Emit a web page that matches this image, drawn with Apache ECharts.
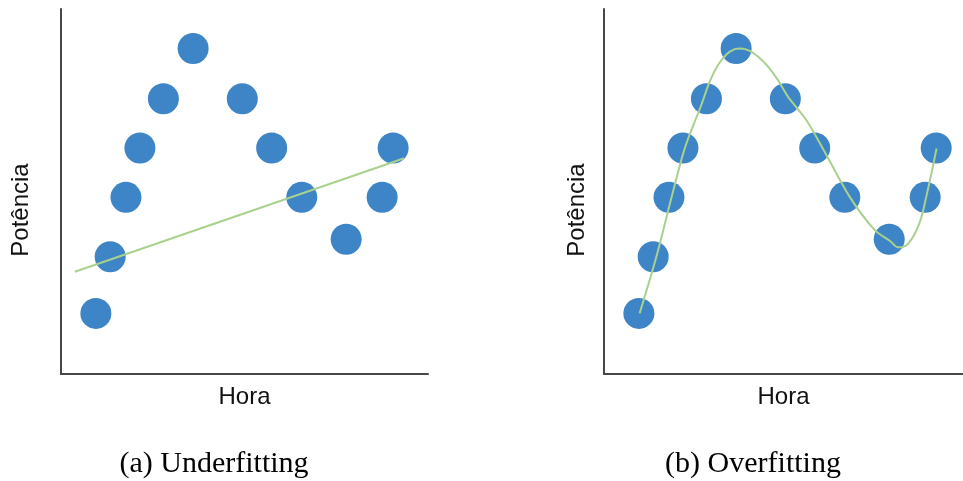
<!DOCTYPE html>
<html>
<head>
<meta charset="utf-8">
<script src="https://cdn.jsdelivr.net/npm/echarts@6/dist/echarts.min.js"></script>
<style>
  html, body { margin: 0; padding: 0; background: #fff; }
  #chart { width: 963px; height: 481px; }
</style>
</head>
<body>
<div id="chart"></div>
<script>
// Hourly power samples (same measurements in both panels)
const hours = [9.5, 13.4, 17.7, 21.5, 27.9, 36.0, 49.4, 57.4, 65.6, 77.7, 87.5, 90.5];
const power = [16.6, 32.1, 48.4, 61.9, 75.4, 89.2, 75.4, 61.9, 48.4, 36.9, 48.4, 61.9];

// (a) straight-line model
const linearX = [3.8, 93.5];
const linearY = [28.0, 59.1];

// (b) high-order model that follows every sample
const curveX = [9.7, 14.4, 18.4, 22.0, 26.5, 28.8, 31.1, 33.4, 35.6, 37.4, 39.7, 42.0, 44.7, 47.4, 50.1,
                55.1, 59.6, 66.9, 73.7, 78.1, 80.1, 82.4, 84.7, 86.5, 87.8, 89.2, 90.6];
const curveY = [16.6, 32.6, 48.4, 61.8, 73.7, 80.1, 84.7, 87.6, 89.0, 89.2, 88.5, 86.9, 84.2, 80.5, 76.0,
                69.6, 61.8, 48.6, 39.5, 36.3, 34.7, 35.3, 38.5, 43.1, 48.6, 55.0, 61.8];

const axisTitleX = 'Hora';
const axisTitleY = 'Potência';
const captions = ['(a) Underfitting', '(b) Overfitting'];

const pts = hours.map((h, i) => [h, power[i]]);
const zip = (xs, ys) => xs.map((x, i) => [x, ys[i]]);

const axisLine = { show: true, lineStyle: { color: '#474747', width: 2 } };
const sansFont = '"Liberation Sans", Arial, sans-serif';
const serifFont = '"Liberation Serif", "Times New Roman", serif';

function xAxisFor(idx, max) {
  return {
    type: 'value', gridIndex: idx, min: 0, max: max,
    axisLine: axisLine, axisTick: { show: false }, axisLabel: { show: false },
    splitLine: { show: false },
    name: axisTitleX, nameLocation: 'middle', nameGap: 11,
    nameTextStyle: { fontFamily: sansFont, fontSize: 24, color: '#111', verticalAlign: 'top' }
  };
}
function yAxisFor(idx) {
  return {
    type: 'value', gridIndex: idx, min: 0, max: 100,
    axisLine: axisLine, axisTick: { show: false }, axisLabel: { show: false },
    splitLine: { show: false }
  };
}

const pointSeries = (idx) => ({
  type: 'scatter', xAxisIndex: idx, yAxisIndex: idx, data: pts,
  symbol: 'circle', symbolSize: 31,
  itemStyle: { color: '#3d85c6', opacity: 1 },
  z: 2, silent: true
});

const fitStyle = { color: '#a9d18e', width: 2 };

const chart = echarts.init(document.getElementById('chart'), null, { renderer: 'canvas' });
chart.setOption({
  animation: false,
  backgroundColor: '#ffffff',
  grid: [
    { left: 61, top: 9, width: 367, height: 365 },
    { left: 604, top: 9, width: 359, height: 365 }
  ],
  xAxis: [xAxisFor(0, 100), xAxisFor(1, 97.8)],
  yAxis: [yAxisFor(0), yAxisFor(1)],
  series: [
    pointSeries(0),
    {
      type: 'line', xAxisIndex: 0, yAxisIndex: 0, data: zip(linearX, linearY),
      showSymbol: false, lineStyle: fitStyle, z: 3, silent: true
    },
    pointSeries(1),
    {
      type: 'line', xAxisIndex: 1, yAxisIndex: 1, data: zip(curveX, curveY),
      smooth: 0.3, showSymbol: false, lineStyle: fitStyle, z: 3, silent: true
    }
  ],
  graphic: [
    { type: 'text', x: 21, y: 210, rotation: Math.PI / 2,
      style: { text: axisTitleY, font: '24px ' + sansFont, fill: '#111', textAlign: 'center', textVerticalAlign: 'middle' } },
    { type: 'text', x: 577, y: 210, rotation: Math.PI / 2,
      style: { text: axisTitleY, font: '24px ' + sansFont, fill: '#111', textAlign: 'center', textVerticalAlign: 'middle' } },
    { type: 'text', x: 214, y: 464,
      style: { text: captions[0], font: '30px ' + serifFont, fill: '#000', textAlign: 'center', textVerticalAlign: 'middle' } },
    { type: 'text', x: 753, y: 464,
      style: { text: captions[1], font: '30px ' + serifFont, fill: '#000', textAlign: 'center', textVerticalAlign: 'middle' } }
  ]
});
</script>
</body>
</html>
